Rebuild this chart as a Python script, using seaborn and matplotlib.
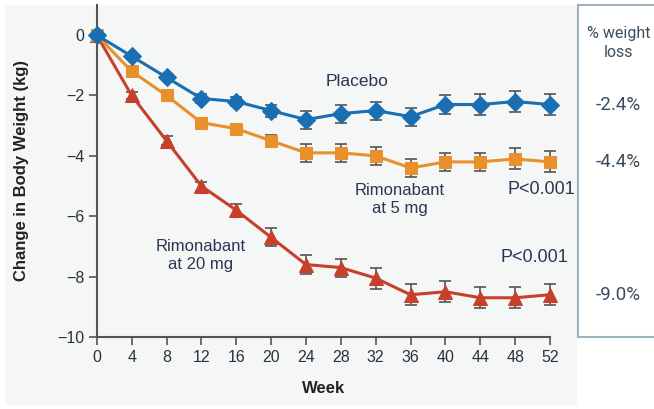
import matplotlib
matplotlib.use("Agg")
import matplotlib.pyplot as plt
import seaborn as sns
import pandas as pd
from matplotlib.patches import Rectangle

weeks = [0, 4, 8, 12, 16, 20, 24, 28, 32, 36, 40, 44, 48, 52]
placebo = [0, -0.7, -1.4, -2.1, -2.2, -2.5, -2.8, -2.6, -2.5, -2.7, -2.3, -2.3, -2.2, -2.3]
mg5 = [0, -1.2, -2.0, -2.9, -3.1, -3.5, -3.9, -3.9, -4.0, -4.4, -4.2, -4.2, -4.1, -4.2]
mg20 = [0, -2.0, -3.5, -5.0, -5.8, -6.7, -7.6, -7.7, -8.05, -8.6, -8.5, -8.7, -8.7, -8.6]
placebo_err = [0, 0.1, 0.1, 0.15, 0.15, 0.2, 0.3, 0.3, 0.3, 0.3, 0.3, 0.35, 0.35, 0.35]
mg5_err = [0, 0.1, 0.1, 0.15, 0.15, 0.2, 0.3, 0.3, 0.3, 0.3, 0.3, 0.3, 0.35, 0.35]
mg20_err = [0, 0.1, 0.15, 0.15, 0.2, 0.3, 0.3, 0.3, 0.35, 0.35, 0.35, 0.35, 0.35, 0.35]
yticks = [0, -2, -4, -6, -8, -10]
ytick_labels = ["0", "\u22122", "\u22124", "\u22126", "\u22128", "\u221210"]
pct_labels = ["-2.4%", "-4.4%", "-9.0%"]
pct_values = [-2.3, -4.2, -8.6]

sns.set_theme(style="white")
plt.rcParams['font.family'] = ['Liberation Sans', 'DejaVu Sans']

fig = plt.figure(figsize=(6.54, 4.09), dpi=100)
fig.patch.set_facecolor("white")
bg = Rectangle((0.008, 0.01), 0.875, 0.978, transform=fig.transFigure,
               facecolor="#f5f6f6", edgecolor="none", zorder=-10)
fig.patches.append(bg)
box = Rectangle((0.884, 0.176), 0.2, 0.812, transform=fig.transFigure,
                facecolor="white", edgecolor="#9fb3bf", linewidth=1.5, zorder=-5)
fig.patches.append(box)

ax = fig.add_axes([0.148, 0.176, 0.693, 0.812])
ax.set_facecolor("none")

colors = {"Placebo": "#1a6fb2", "5 mg": "#e8912c", "20 mg": "#c6402b"}
markers = {"Placebo": "D", "5 mg": "s", "20 mg": "^"}
sizes = {"Placebo": 9, "5 mg": 9, "20 mg": 10}

df = pd.concat([
    pd.DataFrame({"week": weeks, "val": placebo, "err": placebo_err, "grp": "Placebo"}),
    pd.DataFrame({"week": weeks, "val": mg5, "err": mg5_err, "grp": "5 mg"}),
    pd.DataFrame({"week": weeks, "val": mg20, "err": mg20_err, "grp": "20 mg"}),
])

for g in ["20 mg", "5 mg", "Placebo"]:
    d = df[df.grp == g]
    ax.errorbar(d.week, d.val, yerr=d.err, fmt="none", ecolor="#555555",
                elinewidth=1.2, capsize=4, capthick=1.2, zorder=2, clip_on=False)
    sns.lineplot(data=d, x="week", y="val", ax=ax, color=colors[g], marker=markers[g],
                 markersize=sizes[g], markeredgecolor=colors[g], linewidth=2.2,
                 legend=False, zorder=3, clip_on=False)

ax.set_xlim(0, 52)
ax.set_ylim(-10, 1.0)
ax.set_xticks(weeks)
ax.set_xticklabels([str(w) for w in weeks])
ax.set_yticks(yticks)
ax.set_yticklabels(ytick_labels)
ax.tick_params(axis="both", direction="out", length=6, width=1.2, color="#555555",
               labelsize=11.5, labelcolor="#2a3040", pad=3)
ax.tick_params(axis="y", left=True)
ax.tick_params(axis="x", bottom=True)
for s in ["top", "right"]:
    ax.spines[s].set_visible(False)
for s in ["left", "bottom"]:
    ax.spines[s].set_color("#555555")
    ax.spines[s].set_linewidth(1.5)
ax.set_xlabel("Week", fontsize=12, fontweight="bold", color="#222222", labelpad=12)
ax.set_ylabel("Change in Body Weight (kg)", fontsize=12, fontweight="bold",
              color="#222222", labelpad=20)

tc = "#2c3553"
ax.text(29.9, -1.55, "Placebo", fontsize=12.5, color=tc, ha="center", va="center")
ax.text(34.8, -5.45, "Rimonabant\nat 5 mg", fontsize=12, color=tc, ha="center",
        va="center", linespacing=1.3)
ax.text(54.9, -5.1, "P<0.001", fontsize=13, color=tc, ha="right", va="center")
ax.text(11.9, -7.3, "Rimonabant\nat 20 mg", fontsize=12, color=tc, ha="center",
        va="center", linespacing=1.3)
ax.text(54.1, -7.35, "P<0.001", fontsize=13, color=tc, ha="right", va="center")

pc = "#3b4d5c"
fig.text(0.946, 0.895, "% weight\nloss", fontsize=11.5, color=pc, ha="center",
         va="center", linespacing=1.4, family=["Roboto", "DejaVu Sans"], fontweight="normal")
for lab, v in zip(pct_labels, pct_values):
    yf = ax.transData.transform((0, v))[1]
    yfig = fig.transFigure.inverted().transform((0, yf))[1]
    fig.text(0.946, yfig, lab, fontsize=13.5, color=pc, ha="center", va="center",
             family=["Roboto", "DejaVu Sans"])

fig.savefig("out.png", dpi=100)
